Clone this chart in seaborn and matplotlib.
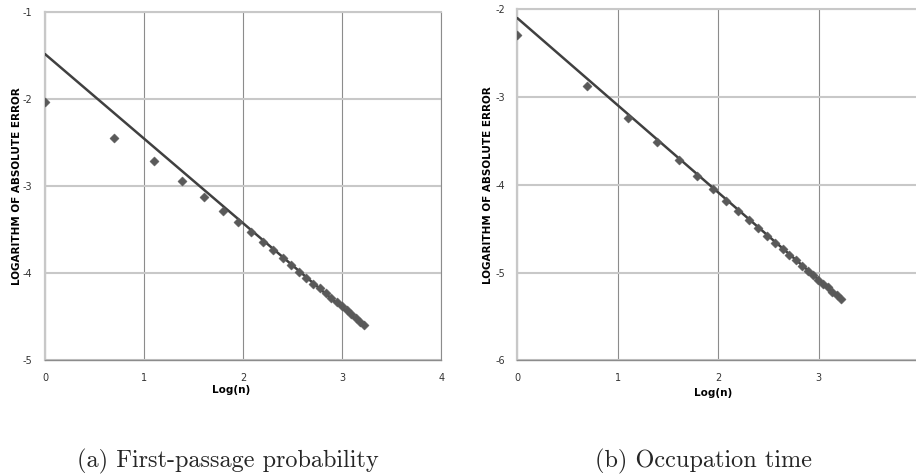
import matplotlib
matplotlib.use("Agg")
import matplotlib.pyplot as plt
import seaborn as sns
import pandas as pd

# ---- data ----
log_n = [0.000, 0.693, 1.099, 1.386, 1.609, 1.792, 1.946, 2.079, 2.197, 2.303,
         2.398, 2.485, 2.565, 2.639, 2.708, 2.773, 2.833, 2.890, 2.944, 2.996,
         3.045, 3.091, 3.135, 3.178, 3.219]
err_first_passage = [-2.03, -2.44, -2.71, -2.94, -3.12, -3.28, -3.41, -3.52, -3.64, -3.73,
                     -3.82, -3.90, -3.98, -4.05, -4.12, -4.17, -4.23, -4.28, -4.33, -4.38,
                     -4.42, -4.47, -4.51, -4.56, -4.60]
err_occupation = [-2.29, -2.87, -3.24, -3.51, -3.72, -3.90, -4.05, -4.18, -4.30, -4.40,
                  -4.49, -4.58, -4.66, -4.73, -4.80, -4.86, -4.92, -4.98, -5.03, -5.08,
                  -5.13, -5.17, -5.22, -5.26, -5.30]
trend_x = [0.0, 3.219]
trend_first_passage = [-1.48, -4.61]
trend_occupation = [-2.10, -5.30]

xticks_a = [0, 1, 2, 3, 4]
yticks_a = [-1, -2, -3, -4, -5]
xticks_b = [0, 1, 2, 3]
yticks_b = [-2, -3, -4, -5, -6]

ylabel = "LOGARITHM OF ABSOLUTE ERROR"
xlabel = "Log(n)"
captions = ["(a) First-passage probability", "(b) Occupation time"]

# ---- figure ----
sns.set_style("white")
plt.rcParams['font.family'] = ['DejaVu Sans']
W, H = 916, 476
fig = plt.figure(figsize=(W / 100, H / 100), dpi=100)

def px_axes(l, t, r, b):
    return fig.add_axes([l / W, 1 - b / H, (r - l) / W, (b - t) / H])

ax_a = px_axes(45, 12.3, 441.3, 360.3)
ax_b = px_axes(517.3, 9.3, 916, 360.3)

light = '#c8c8c8'
dark = '#8c8c8c'
mark_col = '#595959'
line_col = '#404040'

panels = [
    (ax_a, err_first_passage, trend_first_passage, xticks_a, yticks_a, (0, 4), (-5, -1),
     (-0.0707, 0.5), (0.469, -0.0853)),
    (ax_b, err_occupation, trend_occupation, xticks_b, yticks_b, (0, 3.967), (-6, -2),
     (-0.0735, 0.5), (0.491, -0.092)),
]

for ax, yv, tv, xt, yt, xl, yl, ylc, xlc in panels:
    df = pd.DataFrame({"x": log_n, "y": yv})
    dt = pd.DataFrame({"x": trend_x, "y": tv})
    sns.lineplot(data=dt, x="x", y="y", ax=ax, color=line_col, lw=1.8, zorder=3)
    sns.scatterplot(data=df, x="x", y="y", ax=ax, marker='D', s=22, color=mark_col,
                    edgecolor=mark_col, linewidth=0.3, zorder=4)
    ax.set_xlim(*xl)
    ax.set_ylim(*yl)
    ax.set_xticks(xt)
    ax.set_yticks(yt)
    ax.set_xticklabels([str(v) for v in xt])
    ax.set_yticklabels([str(v) for v in yt])
    ax.xaxis.grid(True, color=dark, lw=0.8)
    ax.yaxis.grid(True, color=light, lw=1.5)
    ax.set_axisbelow(True)
    ax.spines['left'].set_color(light)
    ax.spines['left'].set_linewidth(1.6)
    ax.spines['top'].set_color(light)
    ax.spines['top'].set_linewidth(1.5)
    ax.spines['right'].set_color(dark)
    ax.spines['right'].set_linewidth(0.8)
    ax.spines['bottom'].set_color(dark)
    ax.spines['bottom'].set_linewidth(1.0)
    ax.tick_params(axis='y', length=3, width=0.8, color=dark, pad=6, labelsize=7, labelcolor='#333333')
    ax.tick_params(axis='x', length=0, pad=9, labelsize=7, labelcolor='#333333')
    ax.set_ylabel(ylabel, fontsize=7.5, fontweight='heavy', color='black')
    ax.set_xlabel(xlabel, fontsize=7.5, fontweight='heavy', color='black')
    ax.yaxis.set_label_coords(*ylc)
    ax.xaxis.set_label_coords(*xlc)
    ax.xaxis.label.set_va('center')
    ax.yaxis.label.set_va('center')

ax_b.spines['right'].set_visible(False)

fig.text(227.5 / W, 9 / H, captions[0], fontsize=17.5, family='cmr10', ha='center', va='baseline')
fig.text(703.5 / W, 9 / H, captions[1], fontsize=17.5, family='cmr10', ha='center', va='baseline')

fig.savefig("out.png", dpi=100)
